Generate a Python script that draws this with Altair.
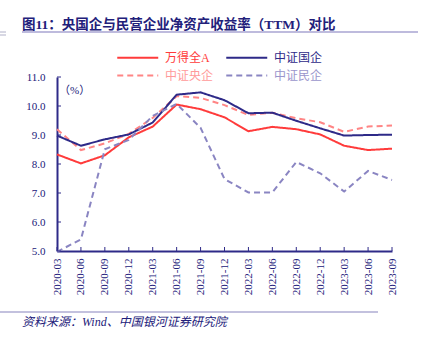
import altair as alt
import pandas as pd

dates = ["2020-03", "2020-06", "2020-09", "2020-12", "2021-03", "2021-06", "2021-09",
         "2021-12", "2022-03", "2022-06", "2022-09", "2022-12", "2023-03", "2023-06", "2023-09"]
wind_a = [8.33, 8.02, 8.30, 8.92, 9.29, 10.05, 9.89, 9.61, 9.13, 9.28, 9.20, 9.02, 8.63, 8.48, 8.53]
soe = [8.98, 8.63, 8.85, 9.02, 9.43, 10.39, 10.47, 10.20, 9.75, 9.77, 9.49, 9.23, 8.98, 9.00, 9.01]
central = [9.20, 8.48, 8.71, 9.04, 9.59, 10.34, 10.28, 10.03, 9.69, 9.77, 9.58, 9.44, 9.11, 9.29, 9.33]
private = [4.97, 5.40, 8.51, 8.83, 9.66, 10.07, 9.25, 7.48, 7.02, 7.02, 8.07, 7.68, 7.05, 7.76, 7.45]
# legend fills column by column: order so that rows read 万得全A/中证国企, 中证央企/中证民企
series_names = ["万得全A", "中证央企", "中证国企", "中证民企"]
series_values = [wind_a, central, soe, private]
series_colors = ["#FF3B3B", "#FF8585", "#2E2A88", "#8A85C2"]
series_dash = [[1, 0], [6, 4], [1, 0], [6, 4]]
y_ticks = [5, 6, 7, 8, 9, 10, 11]

rows = []
for name, vals in zip(series_names, series_values):
    for d, v in zip(dates, vals):
        rows.append({"date": d, "value": v, "series": name})
df = pd.DataFrame(rows)

NAVY = "#2E2A88"
TEXT = "#22207A"
FONT = "Liberation Serif, Noto Sans CJK SC"
W, H = 335, 174

label_expr = (
    "datum.label === '万得全A' ? '#FF3B3B' : datum.label === '中证国企' ? '#2E2A88' : "
    "datum.label === '中证央企' ? '#FF9A9A' : '#9A95CC'"
)

x_axis = alt.Axis(title=None, labelAngle=270, labelFont=FONT, labelFontSize=11,
                  labelColor=TEXT, ticks=False, domainColor=NAVY, domainWidth=2,
                  labelPadding=7, grid=False, labelOverlap=False)
y_axis = alt.Axis(title=None, values=y_ticks, format=".1f", labelFont=FONT,
                  labelFontSize=11, labelColor=TEXT, ticks=False, domainColor=NAVY,
                  domainWidth=2, labelPadding=12, grid=False, labelOverlap=False)
x_scale = alt.Scale(type="point", padding=0)
y_scale = alt.Scale(domain=[5, 11], nice=False, zero=False)

lines = alt.Chart(df).mark_line(strokeWidth=2).encode(
    x=alt.X("date:N", sort=dates, scale=x_scale, axis=x_axis),
    y=alt.Y("value:Q", scale=y_scale, axis=y_axis),
    color=alt.Color("series:N", sort=series_names,
                    scale=alt.Scale(domain=series_names, range=series_colors),
                    legend=alt.Legend(title=None, orient="none", legendX=59, legendY=-31,
                                      columns=2, symbolType="M-1,0H3", symbolSize=420,
                                      symbolStrokeWidth=2, labelFont=FONT, labelFontSize=12,
                                      labelColor={"expr": label_expr}, labelOffset=26,
                                      columnPadding=8, rowPadding=0)),
    strokeDash=alt.StrokeDash("series:N", sort=series_names,
                              scale=alt.Scale(domain=series_names, range=series_dash),
                              legend=None),
)

xticks = alt.Chart(pd.DataFrame({"date": dates})).mark_rule(color=NAVY, strokeWidth=1).encode(
    x=alt.X("date:N", sort=dates, scale=x_scale, axis=x_axis), y=alt.value(H), y2=alt.value(H - 4))
yticks = alt.Chart(pd.DataFrame({"value": y_ticks})).mark_rule(color=NAVY, strokeWidth=1).encode(
    y=alt.Y("value:Q", scale=y_scale, axis=y_axis), x=alt.value(0), x2=alt.value(4))

one = alt.Data(values=[{"a": 1}])
unit = alt.Chart(one).mark_text(text="（%）", font=FONT, fontSize=11, color=TEXT,
                                align="left", baseline="middle").encode(
    x=alt.value(2), y=alt.value(14))
title = alt.Chart(one).mark_text(text="图11：央国企与民营企业净资产收益率（TTM）对比", font=FONT,
                                 fontSize=13.5, fontWeight="bold", color=TEXT,
                                 align="left", baseline="alphabetic").encode(
    x=alt.value(-35), y=alt.value(-48))
underline = alt.Chart(one).mark_rule(color="#A9A5D2", strokeWidth=1.5).encode(
    x=alt.value(-35), x2=alt.value(361), y=alt.value(-45))
eq1 = alt.Chart(one).mark_rule(color="#B0B0C8", strokeWidth=1).encode(
    x=alt.value(-57), x2=alt.value(-51), y=alt.value(-45))
eq2 = alt.Chart(one).mark_rule(color="#B0B0C8", strokeWidth=1).encode(
    x=alt.value(-57), x2=alt.value(-51), y=alt.value(-42))
bottomline = alt.Chart(one).mark_rule(color="#8883BD", strokeWidth=1.2).encode(
    x=alt.value(-57), x2=alt.value(321), y=alt.value(235))
source = alt.Chart(one).mark_text(text="资料来源：Wind、中国银河证券研究院", font=FONT, fontSize=12,
                                  fontStyle="italic", color=TEXT, align="left",
                                  baseline="alphabetic").encode(
    x=alt.value(-35), y=alt.value(249))

chart = alt.layer(lines, xticks, yticks, unit, title, underline, eq1, eq2, bottomline, source).properties(
    width=W, height=H,
    autosize=alt.AutoSizeParams(type="none"),
    padding={"left": 57, "top": 77, "right": 42, "bottom": 92},
    background="white",
).configure_view(stroke=None)

chart.save("out.html", embed_options={"renderer": "svg", "actions": False})
